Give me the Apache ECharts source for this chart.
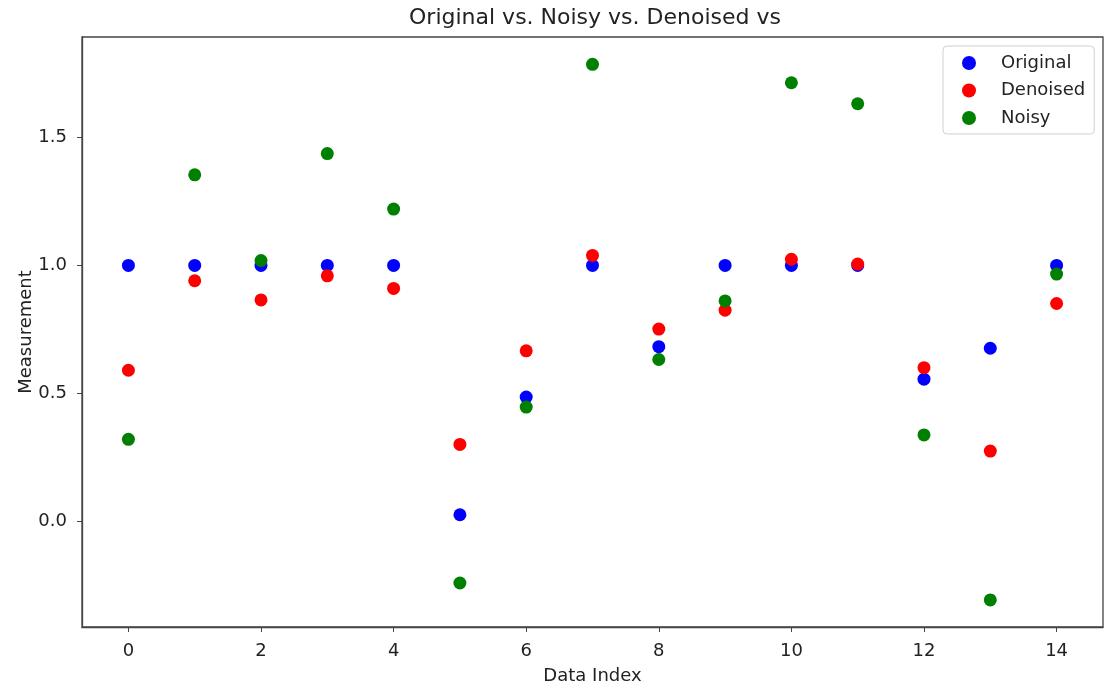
<!DOCTYPE html>
<html>
<head>
<meta charset="utf-8">
<script src="https://cdn.jsdelivr.net/npm/echarts@6/dist/echarts.min.js"></script>
<style>
  html, body { margin: 0; padding: 0; background: #fff; }
  #chart { width: 1110px; height: 690px; }
</style>
</head>
<body>
<div id="chart"></div>
<script>
// 数据
const dataIndex = [0, 1, 2, 3, 4, 5, 6, 7, 8, 9, 10, 11, 12, 13, 14];
const original = [1.0, 1.0, 1.0, 1.0, 1.0, 0.025, 0.485, 1.0, 0.682, 1.0, 1.0, 1.0, 0.555, 0.676, 1.0];
const denoised = [0.59, 0.94, 0.865, 0.959, 0.91, 0.30, 0.666, 1.039, 0.751, 0.825, 1.024, 1.005, 0.60, 0.274, 0.851];
const noisy = [0.32, 1.354, 1.019, 1.437, 1.22, -0.242, 0.446, 1.786, 0.632, 0.861, 1.714, 1.632, 0.337, -0.308, 0.966];
const xTicks = [0, 2, 4, 6, 8, 10, 12, 14];
const yTicks = [0, 0.5, 1.0, 1.5];

function pairs(ys) {
    return dataIndex.map((x, i) => [x, ys[i]]);
}

const font = 'DejaVu Sans';
const chart = echarts.init(document.getElementById('chart'));

const option = {
    animation: false,
    backgroundColor: '#fff',
    textStyle: { fontFamily: font },
    title: {
        text: 'Original vs. Noisy vs. Denoised vs',
        left: 590,
        top: 2,
        textAlign: 'center',
        textStyle: { fontFamily: font, fontSize: 22, fontWeight: 'normal', color: '#222' }
    },
    legend: {
        orient: 'vertical',
        left: 943,
        top: 46,
        padding: [8, 9, 7, 19],
        itemWidth: 54,
        itemHeight: 14,
        itemGap: 9.5,
        icon: 'circle',
        borderColor: '#d0d0d0',
        borderWidth: 1,
        borderRadius: 4,
        textStyle: { fontFamily: font, fontSize: 18, color: '#222' },
        data: ['Original', 'Denoised', 'Noisy']
    },
    grid: {
        left: 82,
        right: 7,
        top: 37,
        bottom: 58,
        show: true,
        borderColor: '#444',
        borderWidth: 1.3,
        containLabel: false
    },
    xAxis: {
        type: 'value',
        min: -0.7,
        max: 14.7,
        name: 'Data Index',
        nameLocation: 'middle',
        nameGap: 40,
        nameMoveOverlap: false,
        nameTextStyle: { fontFamily: font, fontSize: 18, color: '#222' },
        axisLine: { show: true, onZero: false, lineStyle: { color: '#444', width: 1.3 } },
        axisTick: { show: true, length: 5, customValues: xTicks, lineStyle: { color: '#444' } },
        axisLabel: { customValues: xTicks, margin: 15, fontFamily: font, fontSize: 18, color: '#222' },
        splitLine: { show: false }
    },
    yAxis: {
        type: 'value',
        min: -0.414,
        max: 1.893,
        name: 'Measurement',
        nameLocation: 'middle',
        nameGap: 47,
        nameMoveOverlap: false,
        nameTextStyle: { fontFamily: font, fontSize: 18, color: '#222' },
        axisLine: { show: true, onZero: false, lineStyle: { color: '#444', width: 1.3 } },
        axisTick: { show: true, length: 5, customValues: yTicks, lineStyle: { color: '#444' } },
        axisLabel: {
            customValues: yTicks,
            margin: 15,
            fontFamily: font,
            fontSize: 18,
            color: '#222',
            formatter: v => v.toFixed(1)
        },
        splitLine: { show: false }
    },
    series: [
        {
            name: 'Original',
            type: 'scatter',
            symbolSize: 13,
            itemStyle: { color: '#0000ff', opacity: 1 },
            data: pairs(original)
        },
        {
            name: 'Denoised',
            type: 'scatter',
            symbolSize: 13,
            itemStyle: { color: '#ff0000', opacity: 1 },
            data: pairs(denoised)
        },
        {
            name: 'Noisy',
            type: 'scatter',
            symbolSize: 13,
            itemStyle: { color: '#008000', opacity: 1 },
            data: pairs(noisy)
        }
    ]
};

chart.setOption(option);
</script>
</body>
</html>
